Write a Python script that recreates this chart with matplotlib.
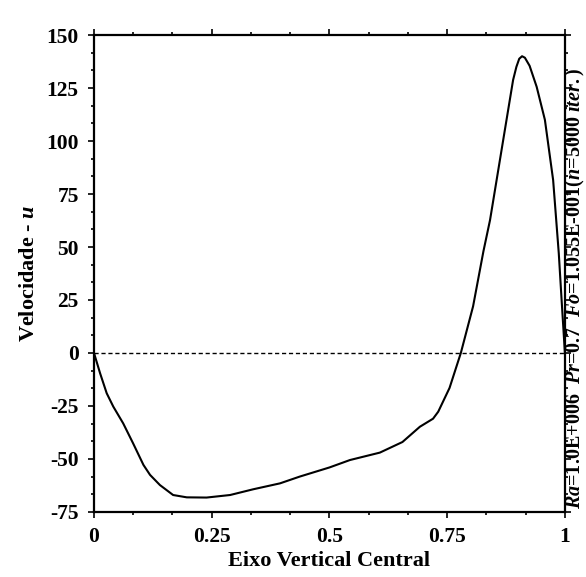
import numpy as np
import matplotlib
matplotlib.use('Agg')
import matplotlib.pyplot as plt
from matplotlib.ticker import MultipleLocator

plt.rcParams['font.family'] = 'Liberation Serif'
plt.rcParams['font.weight'] = 'bold'
plt.rcParams['axes.unicode_minus'] = False
plt.rcParams['mathtext.fontset'] = 'custom'
plt.rcParams['mathtext.rm'] = 'Liberation Serif:bold'
plt.rcParams['mathtext.it'] = 'Liberation Serif:italic:bold'
plt.rcParams['mathtext.bf'] = 'Liberation Serif:bold'

# perfil de velocidade no eixo vertical central
x_pos = [0, 0.013, 0.027, 0.041, 0.062, 0.083, 0.105, 0.119, 0.14, 0.168,
         0.197, 0.239, 0.289, 0.338, 0.395, 0.437, 0.5, 0.5435, 0.607, 0.655,
         0.692, 0.72, 0.731, 0.755, 0.779, 0.805, 0.827, 0.841, 0.869, 0.89,
         0.897, 0.903, 0.909, 0.915, 0.925, 0.94, 0.9575, 0.975, 0.987, 0.993, 1.0]
u_vel = [0, -9.6, -19, -25.3, -33.2, -42.6, -52.8, -57.5, -62.3, -67,
         -68.1, -68.2, -67, -64.3, -61.5, -58.3, -54, -50.5, -47, -42,
         -34.8, -31, -27.7, -16.5, 0, 22, 48, 62.7, 100.5, 128.8,
         135, 138.8, 140, 139.3, 135.5, 125.6, 110, 81.6, 47, 25, 0]

x_ticks = [0, 0.25, 0.5, 0.75, 1]
x_labels = ['0', '0.25', '0.5', '0.75', '1']
y_ticks = [-75, -50, -25, 0, 25, 50, 75, 100, 125, 150]

fig = plt.figure(figsize=(5.86, 5.77), dpi=100)
ax = fig.add_axes([0.1604, 0.1127, 0.8036, 0.8266])

ax.plot(x_pos, u_vel, color='black', lw=1.5)
ax.plot([0, 1], [0, 0], color='black', lw=1.0, linestyle=(0, (3, 2)))

ax.set_xlim(0, 1)
ax.set_ylim(-75, 150)
ax.set_xticks(x_ticks)
ax.set_xticklabels(x_labels)
ax.set_yticks(y_ticks)
ax.xaxis.set_minor_locator(MultipleLocator(0.25 / 3))
ax.yaxis.set_minor_locator(MultipleLocator(25 / 3))
ax.tick_params(which='both', direction='out', top=True, right=True,
               labeltop=False, labelright=False, width=1.2, labelsize=15.5)
ax.tick_params(which='major', length=4, pad=7)
ax.tick_params(which='minor', length=2)
for s in ax.spines.values():
    s.set_linewidth(1.6)

ax.set_xlabel('Eixo Vertical Central', fontsize=16, fontweight='bold', labelpad=3)
ax.set_ylabel('Velocidade - $u$', fontsize=16, fontweight='bold', labelpad=5)

# texto com os parâmetros da simulação, à direita
fig.text(0.9815, 0.5,
         r'$Ra$=1.0E+006  $Pr$=0.7  $Fo$=1.055E-001($n$=5000 $iter.$)',
         rotation=90, ha='center', va='center', fontsize=14.5, fontweight='bold')

plt.savefig('out.png', dpi=100)
